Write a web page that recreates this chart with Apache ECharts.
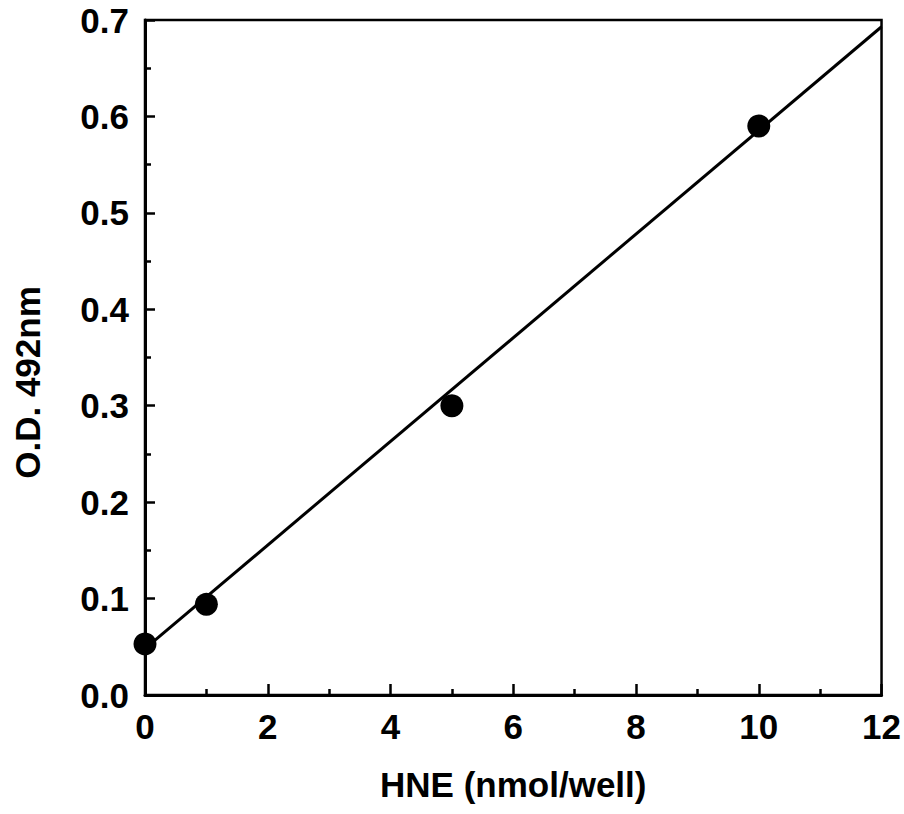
<!DOCTYPE html>
<html>
<head>
<meta charset="utf-8">
<script src="https://cdn.jsdelivr.net/npm/echarts@6/dist/echarts.min.js"></script>
<style>
  html, body { margin: 0; padding: 0; background: #fff; }
  #chart { width: 904px; height: 814px; }
</style>
</head>
<body>
<div id="chart"></div>
<script>
// HNE standard curve: measured points and the fitted straight line
const hneAmount = [0, 1, 5, 10];            // nmol/well
const odValues  = [0.053, 0.094, 0.30, 0.59]; // O.D. at 492 nm
const fitX = [0, 12];
const fitY = [0.048, 0.693];

const xTicks = [0, 2, 4, 6, 8, 10, 12];
const yTicks = [0.0, 0.1, 0.2, 0.3, 0.4, 0.5, 0.6, 0.7];

const FONT = '"Liberation Sans", Arial, Helvetica, sans-serif';
const chart = echarts.init(document.getElementById('chart'), null, { renderer: 'svg' });

chart.setOption({
  animation: false,
  backgroundColor: '#fff',
  grid: {
    left: 145, right: 20, top: 20, bottom: 119,
    show: true, borderColor: '#000', borderWidth: 2.5, backgroundColor: 'transparent'
  },
  xAxis: {
    type: 'value',
    min: xTicks[0], max: xTicks[xTicks.length - 1], interval: 2,
    name: 'HNE (nmol/well)',
    nameLocation: 'middle', nameGap: 72,
    nameTextStyle: { fontFamily: FONT, fontWeight: 'bold', fontSize: 35, color: '#000' },
    axisLine: { show: true, onZero: false, lineStyle: { color: '#000', width: 3 } },
    axisTick: { show: true, inside: true, length: 11, lineStyle: { color: '#000', width: 2.5 } },
    minorTick: { show: true, splitNumber: 2, length: 6, lineStyle: { color: '#000', width: 2.5 } },
    axisLabel: {
      margin: 14, fontFamily: FONT, fontWeight: 'bold', fontSize: 35, color: '#000',
      formatter: v => String(v)
    },
    splitLine: { show: false }
  },
  yAxis: {
    type: 'value',
    min: yTicks[0], max: yTicks[yTicks.length - 1], interval: 0.1,
    name: 'O.D. 492nm',
    nameLocation: 'middle', nameGap: 100, nameRotate: 90,
    nameTextStyle: { fontFamily: FONT, fontWeight: 'bold', fontSize: 35, color: '#000', padding: [0, 50, 0, 0] },
    axisLine: { show: true, onZero: false, lineStyle: { color: '#000', width: 3 } },
    axisTick: { show: true, inside: true, length: 10, lineStyle: { color: '#000', width: 2.5 } },
    minorTick: { show: true, splitNumber: 2, length: 6, lineStyle: { color: '#000', width: 2.5 } },
    axisLabel: {
      margin: 16, fontFamily: FONT, fontWeight: 'bold', fontSize: 35, color: '#000',
      padding: [8, 0, 0, 0],
      formatter: v => v.toFixed(1)
    },
    splitLine: { show: false }
  },
  series: [
    {
      type: 'line',
      data: fitX.map((x, i) => [x, fitY[i]]),
      symbol: 'none',
      lineStyle: { color: '#000', width: 3 },
      z: 2
    },
    {
      type: 'scatter',
      data: hneAmount.map((x, i) => [x, odValues[i]]),
      symbol: 'circle',
      symbolSize: 23,
      itemStyle: { color: '#000', opacity: 1 },
      z: 3
    }
  ]
});
</script>
</body>
</html>
